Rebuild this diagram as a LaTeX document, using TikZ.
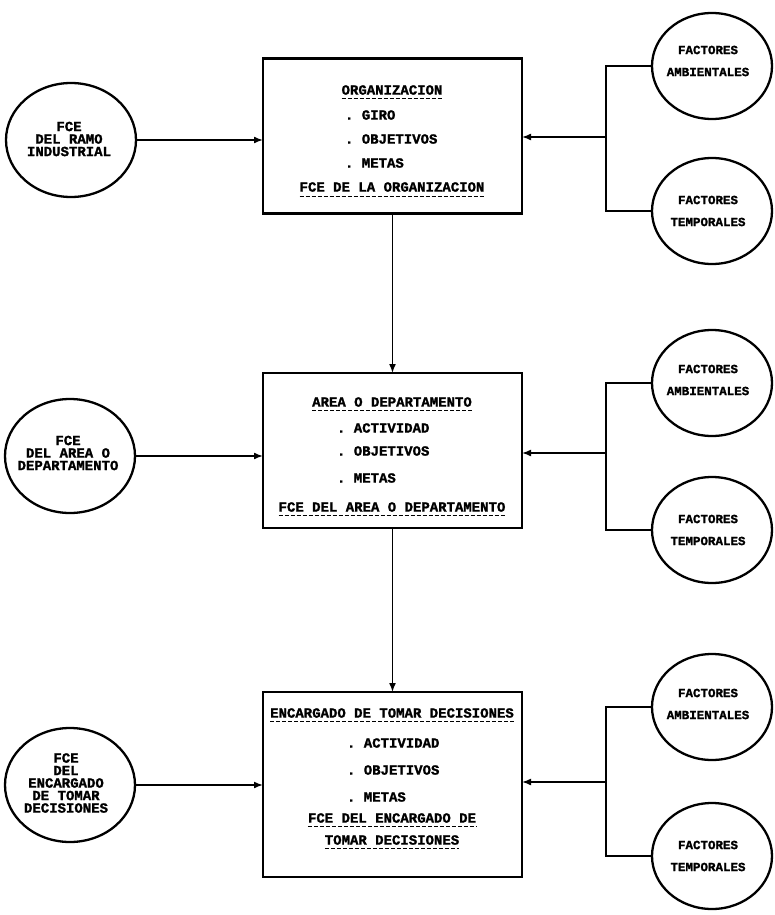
\documentclass[tikz,border=0pt]{standalone}
\usepackage{fontspec}
\setmonofont{Liberation Mono}[BoldFeatures={FakeBold=1.6}]
\usetikzlibrary{arrows.meta,shapes.geometric}

\begin{document}
% let stacked lines in the circles sit closer than their glyph heights
\lineskiplimit=-20pt
\lineskip=0pt
\begin{tikzpicture}[x=1pt,y=-1pt,
  every node/.style={inner sep=0pt, outer sep=0pt},
  txt/.style={font=\ttfamily\bfseries\fontsize{14}{16}\selectfont},
  item/.style={txt, anchor=west},
  box/.style={draw, rectangle, line width=2.8pt, minimum width=259pt},
  lcirc/.style={draw, ellipse, line width=2.3pt, minimum width=130pt, minimum height=114pt},
  rcirc/.style={draw, ellipse, line width=2.3pt, minimum width=120pt, minimum height=106pt},
  ltxt/.style={font=\ttfamily\bfseries\fontsize{14}{12.5}\selectfont, align=center},
  rtxt/.style={font=\ttfamily\bfseries\fontsize{12.5}{22}\selectfont, align=center},
  uline/.style={line width=1.3pt, dash pattern=on 4pt off 2pt},
  conn/.style={line width=1.6pt},
  arr/.style={conn, -{Latex[length=9pt,width=7pt]}}
]
\useasboundingbox (0,0) rectangle (775,915);

% ---- central boxes ----
\node[box, minimum height=155pt] (b1) at (392.5,136) {};
\node[box, minimum height=155pt] (b2) at (392.5,450.5) {};
\node[box, minimum height=185pt] (b3) at (392.5,784.5) {};

% box 1 contents
\node[txt] (b1t) at (392,90) {ORGANIZACION};
\draw[uline] ([yshift=-4pt]b1t.south west) -- ([yshift=-4pt]b1t.south east);
\node[item] (b1i1) at (345,115) {. GIRO};
\node[item] (b1i2) at (345,139) {. OBJETIVOS};
\node[item] (b1i3) at (345,163) {. METAS};
\node[txt] (b1f) at (392,187) {FCE DE LA ORGANIZACION};
\draw[uline] ([yshift=-5pt]b1f.south west) -- ([yshift=-5pt]b1f.south east);

% box 2 contents
\node[txt] (b2t) at (392,402) {AREA O DEPARTAMENTO};
\draw[uline] ([yshift=-4pt]b2t.south west) -- ([yshift=-4pt]b2t.south east);
\node[item] (b2i1) at (337,428) {. ACTIVIDAD};
\node[item] (b2i2) at (337,451) {. OBJETIVOS};
\node[item] (b2i3) at (337,478) {. METAS};
\node[txt] (b2f) at (392,507) {FCE DEL AREA O DEPARTAMENTO};
\draw[uline] ([yshift=-4pt]b2f.south west) -- ([yshift=-4pt]b2f.south east);

% box 3 contents
\node[txt] (b3t) at (392,713) {ENCARGADO DE TOMAR DECISIONES};
\draw[uline] ([yshift=-4pt]b3t.south west) -- ([yshift=-4pt]b3t.south east);
\node[item] (b3i1) at (347,743) {. ACTIVIDAD};
\node[item] (b3i2) at (347,770) {. OBJETIVOS};
\node[item] (b3i3) at (347,797) {. METAS};
\node[txt] (b3f) at (392,818) {FCE DEL ENCARGADO DE};
\draw[uline] ([yshift=-4pt]b3f.south west) -- ([yshift=-4pt]b3f.south east);
\node[txt] (b3g) at (392,840) {TOMAR DECISIONES};
\draw[uline] ([yshift=-4pt]b3g.south west) -- ([yshift=-4pt]b3g.south east);

% ---- left circles ----
\node[lcirc] (l1) at (71,140) {};
\node[ltxt] (l1t) at (69,139) {FCE\\DEL RAMO\\INDUSTRIAL};
\node[lcirc] (l2) at (70,456) {};
\node[ltxt] (l2t) at (68,453) {FCE\\DEL AREA O\\DEPARTAMENTO};
\node[lcirc] (l3) at (70,785) {};
\node[ltxt] (l3t) at (66,783) {FCE\\DEL\\ENCARGADO\\DE TOMAR\\DECISIONES};

% ---- right circles ----
\node[rcirc] (a1) at (712,66) {};
\node[rtxt] (a1t) at (708,61) {FACTORES\\AMBIENTALES};
\node[rcirc] (t1) at (712,211) {};
\node[rtxt] (t1t) at (708,211) {FACTORES\\TEMPORALES};
\node[rcirc] (a2) at (712,383) {};
\node[rtxt] (a2t) at (708,380) {FACTORES\\AMBIENTALES};
\node[rcirc] (t2) at (712,530) {};
\node[rtxt] (t2t) at (708,530) {FACTORES\\TEMPORALES};
\node[rcirc] (a3) at (712,707) {};
\node[rtxt] (a3t) at (708,704) {FACTORES\\AMBIENTALES};
\node[rcirc] (t3) at (712,856) {};
\node[rtxt] (t3t) at (708,856) {FACTORES\\TEMPORALES};

% junctions of the right-hand brackets
\coordinate (j1) at (606,137);
\coordinate (j2) at (606,453);
\coordinate (j3) at (606,782);

% ---- connectors ----
\draw[arr] (l1.east) -- (l1.east -| b1.west);
\draw[arr] (l2.east) -- (l2.east -| b2.west);
\draw[arr] (l3.east) -- (l3.east -| b3.west);

\draw[arr] (b1.south) -- (b2.north);
\draw[arr] (b2.south) -- (b3.north);

\draw[conn] (a1.west) -| (j1) |- (t1.west);
\draw[arr] (j1) -- (j1 -| b1.east);
\draw[conn] (a2.west) -| (j2) |- (t2.west);
\draw[arr] (j2) -- (j2 -| b2.east);
\draw[conn] (a3.west) -| (j3) |- (t3.west);
\draw[arr] (j3) -- (j3 -| b3.east);
\end{tikzpicture}
\end{document}
